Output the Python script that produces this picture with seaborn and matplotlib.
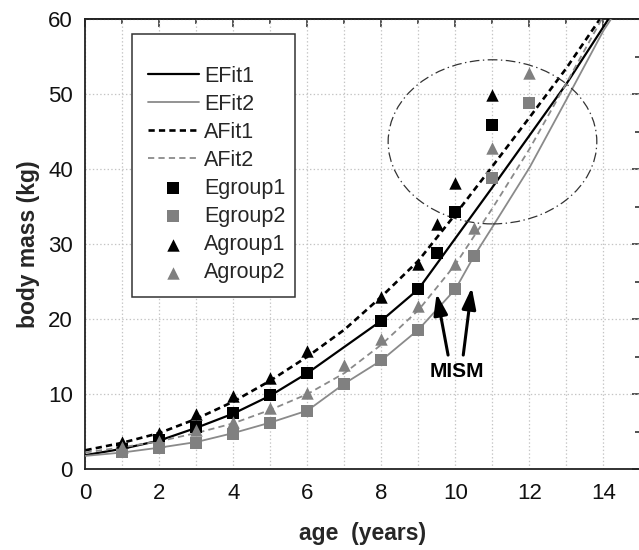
import matplotlib
matplotlib.use("Agg")
import matplotlib.pyplot as plt
import matplotlib.patches as mpatches
from matplotlib.ticker import MultipleLocator
import seaborn as sns

# ---------------- data ----------------
efit1_age = [0, 1, 2, 3, 4, 5, 6, 7, 8, 9, 10, 11, 12, 13, 14, 14.13]
efit1_mass = [1.85, 2.7, 3.8, 5.5, 7.4, 9.8, 12.8, 16.3, 19.8, 24.0, 30.8, 37.6, 44.5, 51.4, 59.0, 60.0]

efit2_age = [0, 1, 2, 3, 4, 5, 6, 7, 8, 9, 10, 10.5, 11, 12, 13, 14, 14.2]
efit2_mass = [1.75, 2.2, 2.85, 3.6, 4.8, 6.2, 7.8, 11.4, 14.5, 18.6, 24.0, 28.4, 32.3, 40.2, 49.3, 58.5, 60.0]

afit1_age = [0, 1, 2, 3, 4, 5, 6, 7, 8, 9, 10, 11, 12, 13, 13.9]
afit1_mass = [2.5, 3.5, 4.8, 6.7, 9.0, 11.8, 15.0, 18.6, 23.0, 27.8, 34.0, 40.4, 46.9, 53.5, 60.0]

afit2_age = [0, 1, 2, 3, 4, 5, 6, 7, 8, 9, 10, 11, 12, 13, 13.95]
afit2_mass = [2.2, 2.9, 3.7, 4.8, 6.1, 7.9, 10.0, 12.8, 16.6, 21.2, 27.3, 34.8, 42.7, 51.5, 60.0]

egroup1_age = [1, 2, 3, 4, 5, 6, 8, 9, 9.5, 10, 11]
egroup1_mass = [2.7, 3.9, 5.6, 7.5, 9.9, 12.8, 19.8, 24.0, 28.8, 34.3, 45.9]

egroup2_age = [1, 2, 3, 4, 5, 6, 7, 8, 9, 10, 10.5, 11, 12]
egroup2_mass = [2.2, 2.8, 3.5, 4.7, 6.2, 7.8, 11.4, 14.5, 18.6, 24.0, 28.4, 38.8, 48.8]

agroup1_age = [1, 2, 3, 4, 5, 6, 8, 9, 9.5, 10, 11]
agroup1_mass = [3.6, 4.8, 7.4, 9.7, 12.2, 15.7, 23.0, 27.4, 32.7, 38.2, 49.9]

agroup2_age = [1, 2, 3, 4, 5, 6, 7, 8, 9, 10, 10.5, 11, 12]
agroup2_mass = [3.0, 3.8, 5.2, 6.3, 8.1, 10.1, 13.9, 17.3, 21.8, 27.4, 32.1, 42.8, 52.9]

x_label = "age  (years)"
y_label = "body mass (kg)"
annot_text = "MISM"

# ---------------- style ----------------
sns.set_theme(style="white")
plt.rcParams["font.family"] = ["Liberation Sans", "DejaVu Sans"]
plt.rcParams["lines.scale_dashes"] = False

BLACK = "#000000"
GRAY = "#808080"
GRAYLINE = "#8a8a8a"
SPINE = "#222222"

fig = plt.figure(figsize=(6.39, 5.50), dpi=100)
ax = fig.add_axes([0.1338, 0.1473, 0.8685, 0.8176])

# fits
sns.lineplot(x=efit1_age, y=efit1_mass, ax=ax, color=BLACK, linewidth=1.6,
             label="EFit1", zorder=3)
sns.lineplot(x=efit2_age, y=efit2_mass, ax=ax, color=GRAYLINE, linewidth=1.3,
             label="EFit2", zorder=3)
sns.lineplot(x=afit1_age, y=afit1_mass, ax=ax, color=BLACK, linewidth=1.9,
             linestyle=(0, (4.5, 3.0)), label="AFit1", zorder=3)
sns.lineplot(x=afit2_age, y=afit2_mass, ax=ax, color=GRAYLINE, linewidth=1.3,
             linestyle=(0, (4.5, 3.0)), label="AFit2", zorder=3)

# groups
msize = 80
sns.scatterplot(x=egroup1_age, y=egroup1_mass, ax=ax, marker="s", s=msize,
                color=BLACK, linewidth=0, label="Egroup1", zorder=5)
sns.scatterplot(x=egroup2_age, y=egroup2_mass, ax=ax, marker="s", s=msize,
                color=GRAY, linewidth=0, label="Egroup2", zorder=5)
sns.scatterplot(x=agroup1_age, y=agroup1_mass, ax=ax, marker="^", s=msize,
                color=BLACK, linewidth=0, label="Agroup1", zorder=5)
sns.scatterplot(x=agroup2_age, y=agroup2_mass, ax=ax, marker="^", s=msize,
                color=GRAY, linewidth=0, label="Agroup2", zorder=5)

# axes limits / ticks
ax.set_xlim(0, 15)
ax.set_ylim(0, 60)
ax.xaxis.set_major_locator(MultipleLocator(2))
ax.xaxis.set_minor_locator(MultipleLocator(1))
ax.yaxis.set_major_locator(MultipleLocator(10))
ax.yaxis.set_minor_locator(MultipleLocator(5))

ax.grid(True, which="both", axis="x", color="#c4c4c4", linestyle=":", linewidth=0.9)
ax.grid(True, which="major", axis="y", color="#c4c4c4", linestyle=":", linewidth=0.9)
ax.set_axisbelow(True)

for sp in ax.spines.values():
    sp.set_color(SPINE)
    sp.set_linewidth(1.3)

ax.tick_params(axis="both", which="major", direction="out", length=6, width=1.1,
               color=SPINE, labelsize=16, labelcolor="#111111")
ax.tick_params(axis="both", which="minor", direction="out", length=3.5, width=1.1,
               color=SPINE)
ax.tick_params(axis="x", which="major", pad=4)
ax.tick_params(axis="y", which="major", pad=3)

# mirrored inward ticks on top / right
secx = ax.secondary_xaxis("top")
secx.xaxis.set_major_locator(MultipleLocator(2))
secx.xaxis.set_minor_locator(MultipleLocator(1))
secx.tick_params(which="major", direction="in", length=6, width=1.1, color=SPINE, labeltop=False)
secx.tick_params(which="minor", direction="in", length=3.5, width=1.1, color=SPINE)
secx.spines["top"].set_color(SPINE)
secx.spines["top"].set_linewidth(1.3)
secy = ax.secondary_yaxis("right")
secy.yaxis.set_major_locator(MultipleLocator(10))
secy.yaxis.set_minor_locator(MultipleLocator(5))
secy.tick_params(which="major", direction="in", length=6, width=1.1, color=SPINE, labelright=False)
secy.tick_params(which="minor", direction="in", length=3.5, width=1.1, color=SPINE)

ax.set_xlabel(x_label, fontsize=16.5, fontweight="bold", labelpad=13)
ax.set_ylabel(y_label, fontsize=16.5, fontweight="bold", labelpad=6)

# ellipse annotation (dash-dot)
ell = mpatches.Ellipse((11.0, 43.65), 5.64, 21.9, fill=False, edgecolor="#333333",
                       linewidth=0.9, linestyle=(0, (7, 2.5, 1, 2.5)), zorder=4)
ax.add_patch(ell)

# MISM arrows + label
arrow_kw = dict(arrowstyle="-|>,head_length=0.85,head_width=0.28", color=BLACK,
                lw=2.2, mutation_scale=15, shrinkA=0, shrinkB=0)
ax.annotate("", xy=(9.49, 23.4), xytext=(9.80, 15.2), arrowprops=arrow_kw, zorder=6)
ax.annotate("", xy=(10.44, 24.2), xytext=(10.21, 15.2), arrowprops=arrow_kw, zorder=6)
ax.text(10.03, 13.0, annot_text, ha="center", va="center", fontsize=15,
        fontweight="bold", color=BLACK, zorder=6)

# legend: frame drawn as a rectangle, entries as a frameless legend
frame = mpatches.Rectangle((0.0834, 0.3816), 0.2941, 0.5868, transform=ax.transAxes,
                           facecolor="white", edgecolor="#333333", linewidth=1.1, zorder=7)
ax.add_patch(frame)
handles, labels = ax.get_legend_handles_labels()
leg = ax.legend(handles, labels, loc="upper left", bbox_to_anchor=(0.1126, 0.897),
                frameon=False, fontsize=15.5, handlelength=2.35, handletextpad=0.25,
                labelspacing=0.33, borderpad=0, borderaxespad=0, markerscale=1.0)
leg.set_zorder(8)

fig.savefig("out.png", dpi=100)
